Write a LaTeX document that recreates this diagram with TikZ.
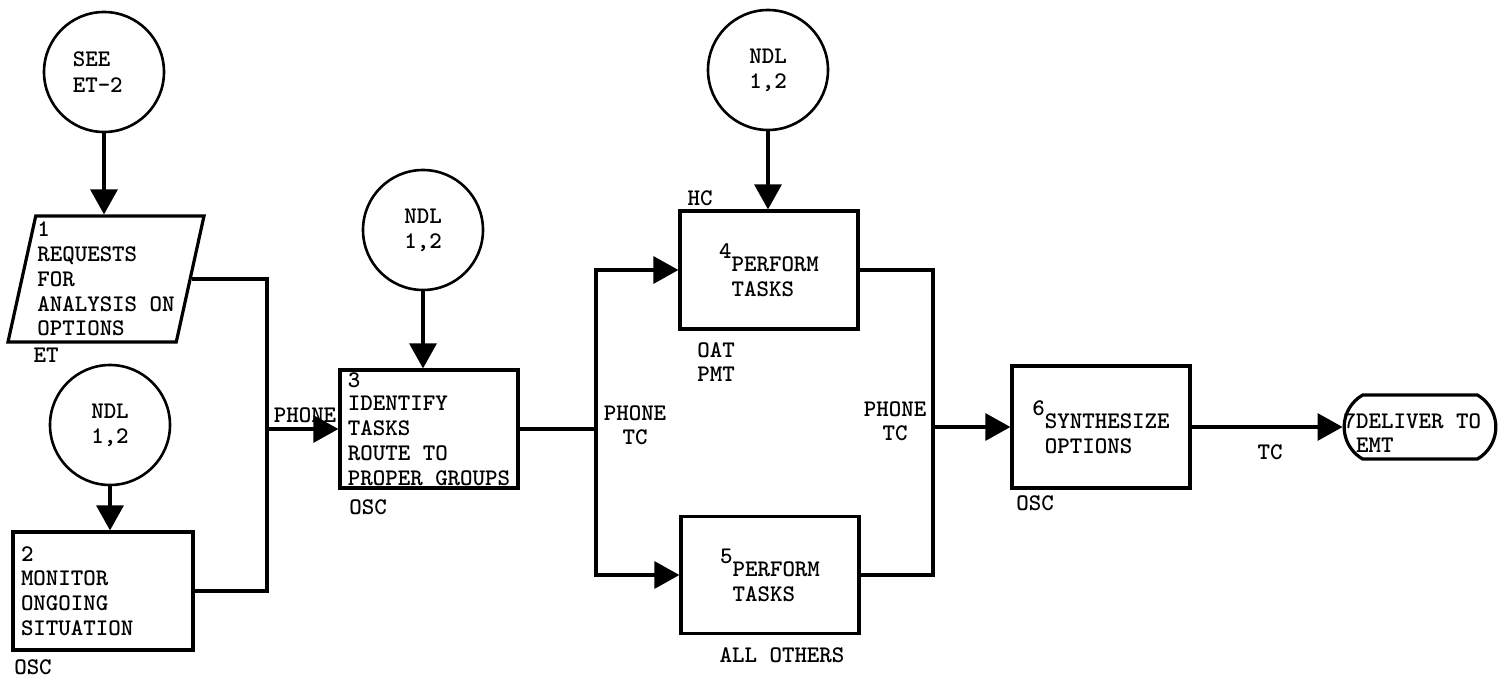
\documentclass[tikz,border=0pt]{standalone}
\usepackage{tikz}
\usetikzlibrary{arrows.meta,positioning,calc,shapes.geometric,shapes.misc}
\tikzset{
  refcircle/.style = {circle, draw, line width=1.3pt, minimum size=60pt, inner sep=0pt,
                      align=center, font=\ttfamily\bfseries\fontsize{11.9}{12.6}\selectfont},
  procbox/.style = {rectangle, draw, line width=1.6pt, minimum width=89pt, minimum height=59pt,
                    inner sep=2pt, align=left, font=\ttfamily\bfseries\fontsize{11.9}{12.4}\selectfont},
  flowlabel/.style = {inner sep=0pt, align=center, font=\ttfamily\bfseries\fontsize{11.9}{12}\selectfont},
}

\begin{document}
\begin{tikzpicture}[x=0.5pt,y=-0.5pt,line width=1.6pt,>={Triangle[length=12.5pt,width=13.5pt]}]
  \useasboundingbox (0,0) rectangle (1510,680);

  % Reference circles
  \node[refcircle, align=left] (see) at (104,72) {SEE\\ET-2\hphantom{-}};
  \node[refcircle] (ndlA) at (110,425) {NDL\\1,2};
  \node[refcircle] (ndlB) at (423,230) {NDL\\1,2};
  \node[refcircle] (ndlC) at (768,70) {NDL\\1,2};

  % Inputs
  \node[trapezium, trapezium left angle=76.8, trapezium right angle=103.2,
        trapezium stretches body, draw, line width=1.6pt, minimum width=98pt,
        minimum height=63pt, inner xsep=0pt, inner ysep=1pt, align=left,
        font=\ttfamily\bfseries\fontsize{11.9}{12.4}\selectfont] (req) at (106,279)
    {1\\REQUESTS\\FOR\\ANALYSIS ON\\OPTIONS};
  \node[procbox, minimum width=90pt, text width=82pt] (monitor) at (103,591)
    {2\\MONITOR\\ONGOING\\SITUATION};

  % Processing
  \node[procbox, inner ysep=0pt] (identify) at (429,429)
    {3\\[-0.5pt]IDENTIFY\\TASKS\\ROUTE TO\\PROPER GROUPS};
  \node[procbox] (perfA) at (769,270)
    {\raisebox{6.5pt}{4}PERFORM\\\hphantom{4}TASKS};
  \node[procbox, minimum height=58.5pt] (perfB) at (770,575)
    {\raisebox{6.5pt}{5}PERFORM\\\hphantom{5}TASKS};
  \node[procbox, minimum height=61pt] (synth) at (1101,427)
    {\raisebox{6.5pt}{6}SYNTHESIZE\\\hphantom{6}OPTIONS};

  % Terminal
  \node[rounded rectangle, rounded rectangle arc length=120, draw, line width=1.6pt,
        minimum width=82.5pt, minimum height=32pt] (deliver) at (1420,427) {};
  \node[flowlabel, align=left, anchor=west] (delivertext) at (1342,433)
    {7DELIVER TO\\\hphantom{7}EMT};

  % Junctions
  \coordinate (jIn) at (267,429);
  \coordinate (jSplit) at (596,429);
  \coordinate (jMerge) at (933,427);

  % Connectors
  \draw[->] (see) -- (see |- req.north);
  \draw[->] (ndlA) -- (ndlA |- monitor.north);
  \draw[->] (ndlB) -- (ndlB |- identify.north);
  \draw[->] (ndlC) -- (ndlC |- perfA.north);

  \draw (req.east) -| (jIn);
  \draw (monitor.east) -| (jIn);
  \draw[->] (jIn) -- (identify.west);

  \draw (identify.east) -- (jSplit);
  \draw[->] (jSplit) |- (perfA.west);
  \draw[->] (jSplit) |- (perfB.west);

  \draw (perfA.east) -| (jMerge);
  \draw (perfB.east) -| (jMerge);
  \draw[->] (jMerge) -- (synth.west);
  \draw[->] (synth.east) -- (deliver.west);

  % Labels
  \node[flowlabel] (lblET) at (46,355) {ET};
  \node[flowlabel] (lblOSCa) at (33,667) {OSC};
  \node[flowlabel] (lblPhone) at (305,415) {PHONE};
  \node[flowlabel] (lblOSCb) at (368,507) {OSC};
  \node[flowlabel] (lblHC) at (700,198) {HC};
  \node[flowlabel, align=left] (lblOAT) at (716,362) {OAT\\PMT};
  \node[flowlabel] (lblPhoneL) at (635,425) {PHONE\\TC};
  \node[flowlabel] (lblPhoneR) at (895,421) {PHONE\\TC};
  \node[flowlabel] (lblAll) at (782,655) {ALL OTHERS};
  \node[flowlabel] (lblTC) at (1270,452) {TC};
  \node[flowlabel] (lblOSCc) at (1035,503) {OSC};

\end{tikzpicture}
\end{document}
